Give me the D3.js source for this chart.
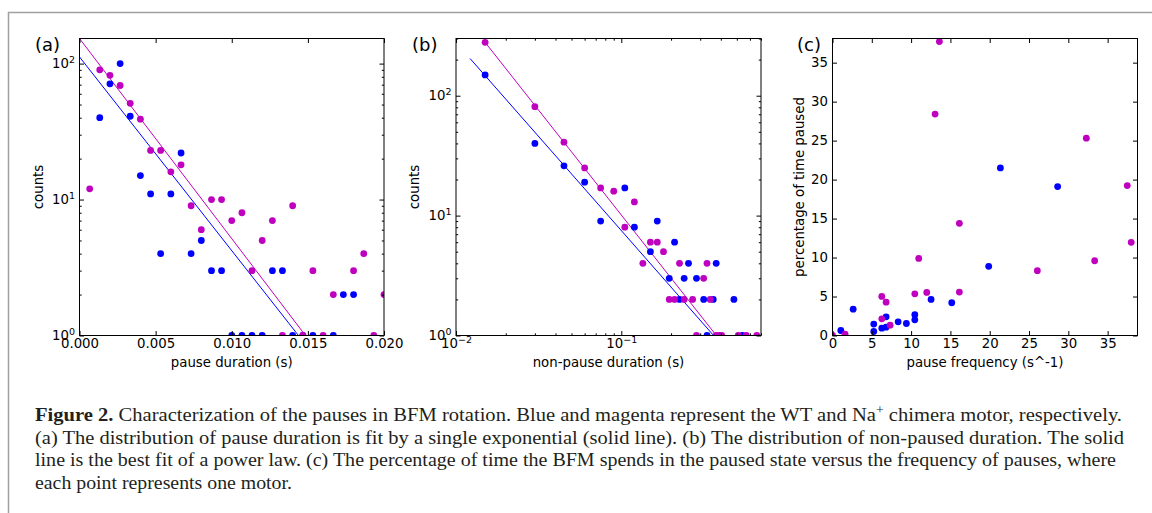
<!DOCTYPE html>
<html><head><meta charset="utf-8">
<script src="https://cdn.jsdelivr.net/npm/d3@7"></script>
<style>body{margin:0;background:#fff}svg{display:block}</style>
</head><body>
<script>
// ---------- DATA ----------
// Panel (a): pause duration histogram (s, counts)
const aWtX = [0.00133,0.002,0.00267,0.00333,0.004,0.00467,0.00533,0.006,0.00667,0.00733,0.008,0.00867,0.00933,0.01,0.01067,0.01133,0.012,0.01267,0.01333,0.014,0.01467,0.01533,0.01667,0.01733,0.018];
const aWtY = [40,71,100,41,15,11,4,11,22,4,5,3,3,1,1,1,1,3,3,1,1,1,1,2,2];
const aNaX = [0.00067,0.00133,0.002,0.00267,0.00333,0.004,0.00467,0.00533,0.006,0.00667,0.00733,0.008,0.00867,0.00933,0.01,0.01067,0.01133,0.012,0.01267,0.01333,0.014,0.01467,0.01533,0.016,0.01667,0.018,0.01867,0.01933,0.02];
const aNaY = [12,90,82,69,51,39,23,23,16,18,9,6,10,10,7,8,3,5,7,1,9,1,3,1,2,3,4,1,2];
// exponential fits: counts = amp * exp(-t / tau)
const aWtFit = {amp:112, tau:0.003048};
const aNaFit = {amp:153, tau:0.00295};

// Panel (b): non-pause duration histogram (s, counts)
const bWtX = [0.015,0.03,0.045,0.06,0.075,0.105,0.12,0.15,0.165,0.195,0.21,0.225,0.24,0.255,0.285,0.315,0.33,0.36,0.375,0.48,0.54];
const bWtY = [149,40,26,19,9,17,8,5,9,3,6,2,3,4,3,2,1,2,4,2,1];
const bNaX = [0.015,0.03,0.045,0.06,0.075,0.09,0.105,0.12,0.135,0.15,0.165,0.18,0.195,0.21,0.225,0.24,0.27,0.285,0.315,0.33,0.345,0.375,0.39,0.405,0.51,0.57,0.66];
const bNaY = [279,81,41,25,17,16,8,13,4,6,6,5,2,2,4,2,2,1,3,4,2,1,1,1,1,1,1];
// power-law fits: counts = coef * t^(-exponent), drawn from tStart
const bWtFit = {coef:0.203, exponent:1.568, tStart:0.01216};
const bNaFit = {coef:0.1807, exponent:1.748, tStart:0.015};

// Panel (c): pause frequency (s^-1) vs percentage of time paused
const cWtX = [1.06,2.63,5.25,5.25,6.27,6.82,6.82,8.35,9.4,10.47,10.47,12.54,15.17,19.87,21.36,28.64];
const cWtY = [0.64,3.38,1.46,0.51,0.94,2.4,1.07,1.76,1.54,2.66,2.01,4.63,4.2,8.87,21.5,19.1];
const cNaX = [0,1.6,6.27,6.27,6.82,7.33,10.47,10.97,11.99,13.05,13.6,16.14,16.14,26.06,32.29,33.35,37.5,38.0];
const cNaY = [0,0.17,5.01,2.14,4.28,1.33,5.35,9.89,5.52,28.4,37.7,5.57,14.39,8.31,25.31,9.59,19.23,11.95];

// tick values
const aXTicks = [0,0.005,0.01,0.015,0.02];
const aXLabels = ["0.000","0.005","0.010","0.015","0.020"];
const aYTicks = [1,10,100];
const aYMinor = [2,3,4,5,6,7,8,9,20,30,40,50,60,70,80,90];
const bXTicks = [0.01,0.1];
const bXMinor = [0.02,0.03,0.04,0.05,0.06,0.07,0.08,0.09,0.2,0.3,0.4,0.5,0.6,0.7];
const bYTicks = [1,10,100];
const bYMinor = [2,3,4,5,6,7,8,9,20,30,40,50,60,70,80,90,200,300];
const cTicks = [0,5,10,15,20,25,30,35];

const WT_COLOR = "#0000ff", NA_COLOR = "#bf00bf";

// ---------- DRAW ----------
const svg = d3.select("body").append("svg").attr("width",1152).attr("height",513);
const defs = svg.append("defs");

// outer frame
svg.append("path").attr("d","M8.5,513 L8.5,12.5 L1152,12.5")
  .attr("fill","none").attr("stroke","#a0a0a0").attr("stroke-width",1.5);

const FONT = "DejaVu Sans";
const FS = "13.3px";
const TICK = 4.5, MINOR = 2.2;

function pow10Label(sel, d){
  const e = Math.round(Math.log10(d));
  sel.text(null);
  sel.append("tspan").text("10");
  sel.append("tspan").attr("font-size","9.5px").attr("dy","-5.5px")
     .text(e < 0 ? "\u2212" + (-e) : String(e));
}

function panel(o){
  const g = svg.append("g");
  const x = o.x.range([o.left,o.right]);
  const y = o.y.range([o.bottom,o.top]);
  defs.append("clipPath").attr("id","clip"+o.id).append("rect")
    .attr("x",o.left).attr("y",o.top).attr("width",o.right-o.left).attr("height",o.bottom-o.top);
  const gp = g.append("g").attr("clip-path","url(#clip"+o.id+")");

  // fit lines
  (o.fits||[]).forEach(f=>{
    gp.append("path").datum(f.pts)
      .attr("d", d3.line().x(d=>x(d[0])).y(d=>y(d[1])))
      .attr("fill","none").attr("stroke",f.color).attr("stroke-width",1);
  });
  // points
  o.series.forEach(s=>{
    gp.selectAll(null).data(s.xs.map((v,i)=>[v,s.ys[i]])).enter().append("circle")
      .attr("cx",d=>x(d[0])).attr("cy",d=>y(d[1])).attr("r",3.4).attr("fill",s.color);
  });

  // axes
  function styleAxis(ag){
    ag.select(".domain").remove();
    ag.attr("font-family",FONT).attr("font-size",FS).attr("color","#000");
    ag.selectAll("line").attr("stroke-width",1);
    ag.selectAll("text").attr("fill","#000");
  }
  const bottom = d3.axisBottom(x).tickValues(o.xTicks).tickSize(-TICK).tickSizeOuter(0).tickPadding(3.5)
     .tickFormat((d,i)=> o.xLabels ? o.xLabels[i] : d);
  const gb = g.append("g").attr("transform",`translate(0,${o.bottom})`).call(bottom);
  styleAxis(gb);
  if (o.xPow) gb.selectAll("text").each(function(d){ pow10Label(d3.select(this), d); });
  g.append("g").attr("transform",`translate(0,${o.top})`)
    .call(d3.axisTop(x).tickValues(o.xTicks).tickSize(-TICK).tickSizeOuter(0).tickFormat("")).call(styleAxis);
  if (o.xMinor){
    g.append("g").attr("transform",`translate(0,${o.bottom})`)
      .call(d3.axisBottom(x).tickValues(o.xMinor).tickSize(-MINOR).tickSizeOuter(0).tickFormat("")).call(styleAxis);
    g.append("g").attr("transform",`translate(0,${o.top})`)
      .call(d3.axisTop(x).tickValues(o.xMinor).tickSize(-MINOR).tickSizeOuter(0).tickFormat("")).call(styleAxis);
  }
  const left = d3.axisLeft(y).tickValues(o.yTicks).tickSize(-TICK).tickSizeOuter(0).tickPadding(4.5)
     .tickFormat(d=>String(d));
  const gl = g.append("g").attr("transform",`translate(${o.left},0)`).call(left);
  styleAxis(gl);
  if (o.yPow) gl.selectAll("text").each(function(d){ pow10Label(d3.select(this), d); });
  g.append("g").attr("transform",`translate(${o.right},0)`)
    .call(d3.axisRight(y).tickValues(o.yTicks).tickSize(-TICK).tickSizeOuter(0).tickFormat("")).call(styleAxis);
  if (o.yMinor){
    g.append("g").attr("transform",`translate(${o.left},0)`)
      .call(d3.axisLeft(y).tickValues(o.yMinor).tickSize(-MINOR).tickSizeOuter(0).tickFormat("")).call(styleAxis);
    g.append("g").attr("transform",`translate(${o.right},0)`)
      .call(d3.axisRight(y).tickValues(o.yMinor).tickSize(-MINOR).tickSizeOuter(0).tickFormat("")).call(styleAxis);
  }

  // frame
  g.append("rect").attr("x",o.left).attr("y",o.top).attr("width",o.right-o.left).attr("height",o.bottom-o.top)
    .attr("fill","none").attr("stroke","#000").attr("stroke-width",1);

  // labels
  g.append("text").attr("x",(o.left+o.right)/2).attr("y",367).attr("text-anchor","middle")
    .attr("font-family",FONT).attr("font-size",FS).text(o.xLabel);
  g.append("text").attr("transform",`translate(${o.yLabelX},187) rotate(-90)`).attr("text-anchor","middle")
    .attr("font-family",FONT).attr("font-size",FS).text(o.yLabel);
  g.append("text").attr("x",o.tagX).attr("y",51).attr("font-family",FONT).attr("font-size","18px").text(o.tag);
}

function expFitPts(f){ return [[0,f.amp],[f.tau*Math.log(f.amp),1]]; }
function powFitPts(f){
  const tEnd = Math.pow(f.coef, 1/f.exponent);
  return [[f.tStart, f.coef*Math.pow(f.tStart,-f.exponent)],[tEnd,1]];
}

panel({id:"a", left:79.5, right:384, top:38.5, bottom:335.5,
  x:d3.scaleLinear().domain([0,0.02]), y:d3.scaleLog().domain([1,153]),
  xTicks:aXTicks, xLabels:aXLabels, yTicks:aYTicks, yMinor:aYMinor, yPow:true,
  series:[{xs:aWtX,ys:aWtY,color:WT_COLOR},{xs:aNaX,ys:aNaY,color:NA_COLOR}],
  fits:[{pts:expFitPts(aWtFit),color:WT_COLOR},{pts:expFitPts(aNaFit),color:NA_COLOR}],
  xLabel:"pause duration (s)", yLabel:"counts", yLabelX:43, tag:"(a)", tagX:35});

panel({id:"b", left:456, right:761, top:38.5, bottom:335.5,
  x:d3.scaleLog().domain([0.01,0.7]), y:d3.scaleLog().domain([1,300]),
  xTicks:bXTicks, xMinor:bXMinor, xPow:true, yTicks:bYTicks, yMinor:bYMinor, yPow:true,
  series:[{xs:bWtX,ys:bWtY,color:WT_COLOR},{xs:bNaX,ys:bNaY,color:NA_COLOR}],
  fits:[{pts:powFitPts(bWtFit),color:WT_COLOR},{pts:powFitPts(bNaFit),color:NA_COLOR}],
  xLabel:"non-pause duration (s)", yLabel:"counts", yLabelX:419, tag:"(b)", tagX:412});

panel({id:"c", left:832.5, right:1137.5, top:38.5, bottom:335.5,
  x:d3.scaleLinear().domain([0,38.8]), y:d3.scaleLinear().domain([0,38.1]),
  xTicks:cTicks, yTicks:cTicks,
  series:[{xs:cWtX,ys:cWtY,color:WT_COLOR},{xs:cNaX,ys:cNaY,color:NA_COLOR}],
  xLabel:"pause frequency (s^-1)", yLabel:"percentage of time paused", yLabelX:804, tag:"(c)", tagX:797});

// ---------- CAPTION ----------
const CAP_FONT = "Liberation Serif";
const cap = svg.append("g").attr("font-family",CAP_FONT).attr("font-size","18px").attr("fill","#231f20");
const l1 = cap.append("text").attr("x",35).attr("y",421).attr("textLength",1087).attr("lengthAdjust","spacingAndGlyphs");
l1.append("tspan").attr("font-weight","bold").text("Figure 2.");
l1.append("tspan").text(" Characterization of the pauses in BFM rotation. Blue and magenta represent the WT and Na");
l1.append("tspan").attr("font-size","12px").attr("dy","-7px").text("+");
l1.append("tspan").attr("dy","7px").text(" chimera motor, respectively.");
cap.append("text").attr("x",35).attr("y",443.5).attr("textLength",1089).attr("lengthAdjust","spacingAndGlyphs")
  .text("(a) The distribution of pause duration is fit by a single exponential (solid line). (b) The distribution of non-paused duration. The solid");
cap.append("text").attr("x",35).attr("y",466).attr("textLength",1081).attr("lengthAdjust","spacingAndGlyphs")
  .text("line is the best fit of a power law. (c) The percentage of time the BFM spends in the paused state versus the frequency of pauses, where");
cap.append("text").attr("x",35).attr("y",488.5).attr("textLength",257).attr("lengthAdjust","spacingAndGlyphs")
  .text("each point represents one motor.");
</script>
</body></html>
